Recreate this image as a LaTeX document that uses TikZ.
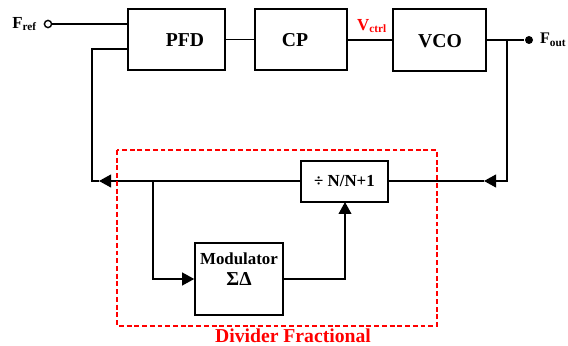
\documentclass[tikz,border=0pt]{standalone}
\usepackage{fontspec}
\setmainfont{Liberation Serif}
\usetikzlibrary{arrows.meta}

\begin{document}
\begin{tikzpicture}[x=0.025cm,y=-0.025cm,>={Triangle[length=3mm,width=3.2mm]},line width=1pt,font=\bfseries]
\tikzset{
  blockbox/.style={draw,line width=1.1pt,inner sep=0pt},
  blocktext/.style={font=\fontsize{14}{16}\selectfont\bfseries},
  pin/.style={circle,inner sep=0pt,minimum size=2mm}
}
\useasboundingbox (0,0) rectangle (568,346);
% blocks
\node[blockbox,minimum width=2.425cm,minimum height=1.525cm] (pfd) at (176.5,39.5) {};
\node[blocktext] at (185,40) {PFD};
\node[blockbox,minimum width=2.3cm,minimum height=1.525cm] (cp) at (301,39.5) {};
\node[blocktext] at (295,40) {CP};
\node[blockbox,minimum width=2.325cm,minimum height=1.55cm] (vco) at (439.5,40) {};
\node[blocktext] at (440,41) {VCO};
\node[blockbox,minimum width=2.175cm,minimum height=1.025cm,font=\fontsize{12}{14}\selectfont\bfseries] (div) at (344.5,181.5) {÷ N/N+1};
\node[blockbox,minimum width=2.2cm,minimum height=1.8cm] (mod) at (239,279) {};
\node[align=center,font=\fontsize{12}{15}\selectfont\bfseries] (modtxt) at (239,269) {Modulator\\ \fontsize{14}{15}\selectfont ΣΔ};
% pins
\node[pin,draw,line width=1pt,minimum size=1.8mm] (frefpin) at (48,24) {};
\node[anchor=east,font=\fontsize{12}{14}\selectfont\bfseries] (fref) at ([xshift=-1pt]frefpin.west) {F\textsubscript{ref}};
\node[pin,fill,minimum size=2mm] (foutpin) at (529,40) {};
\node[anchor=west,inner sep=1pt,font=\fontsize{11.5}{14}\selectfont\bfseries] (fout) at ([xshift=3pt]foutpin.east) {F\textsubscript{out}};
\node[red,font=\fontsize{12}{14}\selectfont\bfseries] (vctrl) at (372,26) {V\textsubscript{ctrl}};
% forward path
\draw (frefpin) -- (frefpin -| pfd.west);
\draw (pfd) -- (cp);
\draw (cp.east |- vco) -- (vco);
\draw (vco) -- (foutpin);
\coordinate (tap) at (507,40);
\coordinate (rarr) at (484,181);
\coordinate (larr) at (99,181);
\coordinate (corner) at (92,181);
\coordinate (split) at (153,181);
% feedback
\draw[->] (tap) |- (rarr);
\draw (rarr) -- (div.east |- rarr);
\draw[->] (div.west |- larr) -- (larr);
\draw (larr) -- (corner) |- (92,49) -- (pfd.west |- 0,49);
\draw[->] (split) |- (mod.west);
\draw[->] (mod.east) -| (345,202);
% divider block
\draw[red,dashed,line width=1.6pt,dash pattern=on 3.5pt off 2pt] (117,150) rectangle (437,326);
\node[red,font=\fontsize{14}{16}\selectfont\bfseries] (divlabel) at (293,336) {Divider Fractional};
\end{tikzpicture}
\end{document}
